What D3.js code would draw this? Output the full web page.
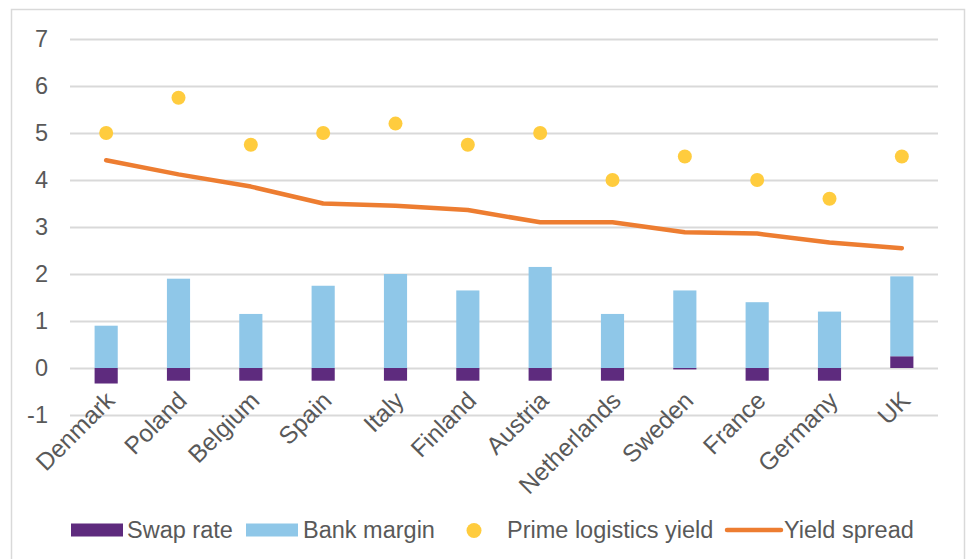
<!DOCTYPE html>
<html lang="en">
<head>
    <meta charset="UTF-8">
    <script src="https://cdn.jsdelivr.net/npm/d3@7"></script>
    <title>Yield spread by country</title>
    <style>
        body {
            margin: 0;
            background: white;
            font-family: "Liberation Sans", Arial, sans-serif;
        }
        .tick text {
            fill: #595959;
        }
    </style>
</head>
<body>
    <div class="fig"></div>

    <script>
        const countries = ["Denmark", "Poland", "Belgium", "Spain", "Italy", "Finland",
            "Austria", "Netherlands", "Sweden", "France", "Germany", "UK"];
        const swapRate = [-0.33, -0.27, -0.27, -0.27, -0.27, -0.27, -0.27, -0.27, -0.03, -0.27, -0.27, 0.25];
        const bankMargin = [0.9, 1.9, 1.15, 1.75, 2.0, 1.65, 2.15, 1.15, 1.65, 1.4, 1.2, 1.7];
        const primeYield = [5.0, 5.75, 4.75, 5.0, 5.2, 4.75, 5.0, 4.0, 4.5, 4.0, 3.6, 4.5];
        const yieldSpread = [4.42, 4.12, 3.86, 3.5, 3.45, 3.36, 3.1, 3.1, 2.89, 2.86, 2.67, 2.55];
        const yTicks = [-1, 0, 1, 2, 3, 4, 5, 6, 7];

        const width = 973, height = 559;
        const plot = {left: 70, right: 938, top: 39, bottom: 415};

        const colors = {
            swap: "#5E2B7E",
            margin: "#8FC7E8",
            yield: "#FFCC3E",
            spread: "#ED7D31",
            grid: "#D9D9D9",
            text: "#595959"
        };

        const svg = d3.select(".fig").append("svg")
            .attr("width", width)
            .attr("height", height);

        // chart frame
        svg.append("rect")
            .attr("x", 11.5).attr("y", 9.5)
            .attr("width", 953).attr("height", 560)
            .attr("fill", "white")
            .attr("stroke", colors.grid)
            .attr("stroke-width", 1.5);

        const x = d3.scaleBand()
            .domain(countries)
            .range([plot.left, plot.right]);

        const y = d3.scaleLinear()
            .domain([-1, 7])
            .range([plot.bottom, plot.top]);

        const cx = c => x(c) + x.bandwidth() / 2;
        const barW = x.bandwidth() * 0.32;

        // gridlines + y labels
        const yAxis = svg.append("g")
            .attr("transform", `translate(${plot.left},0)`)
            .call(d3.axisLeft(y).tickValues(yTicks).tickSize(-(plot.right - plot.left)).tickPadding(22).tickFormat(d => String(d)));
        yAxis.select(".domain").remove();
        yAxis.selectAll(".tick line").attr("stroke", colors.grid).attr("stroke-width", 2);
        yAxis.selectAll(".tick text")
            .attr("font-size", "23.5px")
            .attr("font-family", "Liberation Sans, Arial, sans-serif");

        // stacked bars (negatives and positives stacked separately, like Excel)
        const rows = countries.map((c, i) => ({country: c, swap: swapRate[i], margin: bankMargin[i]}));
        const series = d3.stack()
            .keys(["swap", "margin"])
            .offset(d3.stackOffsetDiverging)(rows);

        svg.append("g").selectAll("g")
            .data(series)
            .enter()
            .append("g")
            .attr("fill", d => d.key === "swap" ? colors.swap : colors.margin)
            .selectAll("rect")
            .data(d => d)
            .enter()
            .append("rect")
            .attr("x", d => cx(d.data.country) - barW / 2)
            .attr("width", barW)
            .attr("y", d => y(Math.max(d[0], d[1])))
            .attr("height", d => Math.abs(y(d[0]) - y(d[1])));

        // yield spread line
        const line = d3.line()
            .x((d, i) => cx(countries[i]))
            .y(d => y(d));

        svg.append("path")
            .datum(yieldSpread)
            .attr("d", line)
            .attr("fill", "none")
            .attr("stroke", colors.spread)
            .attr("stroke-width", 4.5)
            .attr("stroke-linejoin", "round")
            .attr("stroke-linecap", "round");

        // prime logistics yield markers
        svg.append("g").selectAll("circle")
            .data(primeYield)
            .enter()
            .append("circle")
            .attr("cx", (d, i) => cx(countries[i]))
            .attr("cy", d => y(d))
            .attr("r", 7)
            .attr("fill", colors.yield);

        // rotated category labels
        svg.append("g").selectAll("text")
            .data(countries)
            .enter()
            .append("text")
            .attr("transform", c => `translate(${cx(c) + 10},${plot.bottom - 13}) rotate(-45)`)
            .attr("text-anchor", "end")
            .attr("font-size", "24.5px")
            .attr("fill", colors.text)
            .text(c => c);

        // legend
        const legend = svg.append("g").attr("font-size", "23.5px").attr("fill", colors.text);
        const legY = 530;

        legend.append("rect").attr("x", 71).attr("y", legY - 6.5).attr("width", 52).attr("height", 13).attr("fill", colors.swap);
        legend.append("text").attr("x", 127).attr("y", legY + 8).text("Swap rate");

        legend.append("rect").attr("x", 246).attr("y", legY - 6.5).attr("width", 52).attr("height", 13).attr("fill", colors.margin);
        legend.append("text").attr("x", 303).attr("y", legY + 8).text("Bank margin");

        legend.append("circle").attr("cx", 474).attr("cy", legY + 0.5).attr("r", 7.5).attr("fill", colors.yield);
        legend.append("text").attr("x", 507).attr("y", legY + 8).text("Prime logistics yield");

        legend.append("line").attr("x1", 727).attr("x2", 781).attr("y1", legY).attr("y2", legY)
            .attr("stroke", colors.spread).attr("stroke-width", 4.5).attr("stroke-linecap", "round");
        legend.append("text").attr("x", 784).attr("y", legY + 8).text("Yield spread");
    </script>
</body>
</html>
